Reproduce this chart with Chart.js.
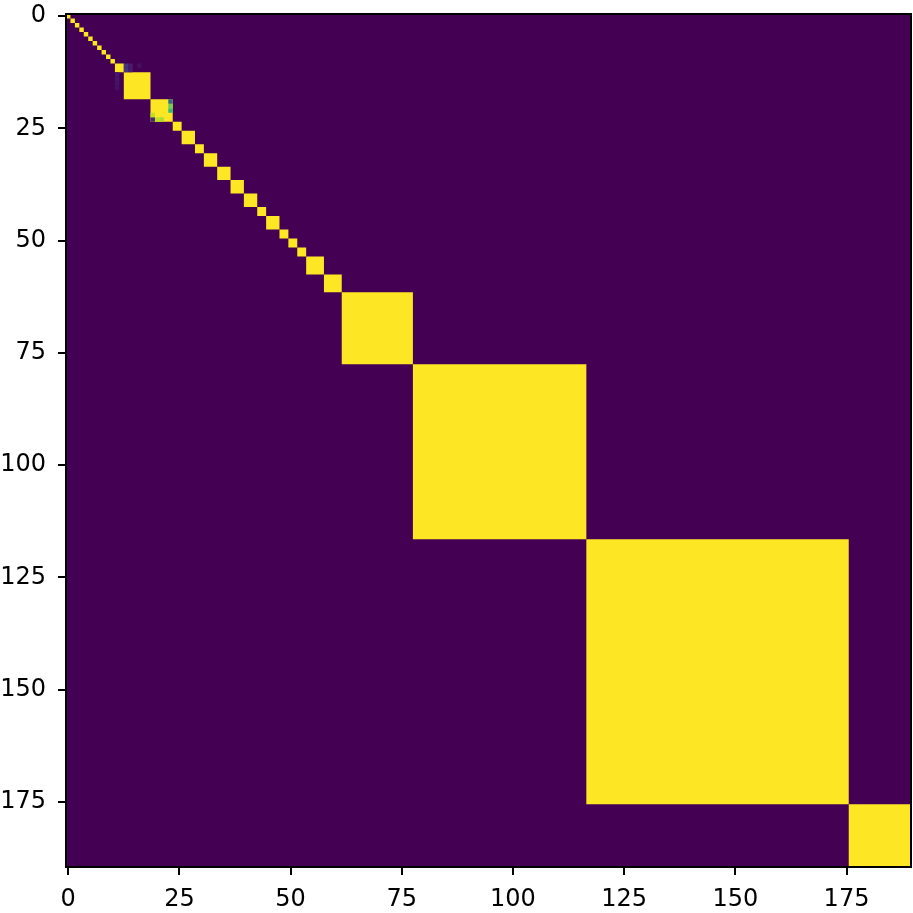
<!DOCTYPE html>
<html>
<head>
<meta charset="utf-8">
<script src="https://cdn.jsdelivr.net/npm/chart.js@4/dist/chart.umd.min.js"></script>
<style>
  html, body { margin: 0; padding: 0; background: #fff; }
  canvas { display: block; }
</style>
</head>
<body>
<canvas id="chart" width="913" height="913"></canvas>
<script>
// matrix size (rows = columns)
const size = 190;

// diagonal blocks of value 1 (first and last index of each block)
const blockFirst = [0, 1, 2, 3, 4, 5, 6, 7, 8, 9, 10, 11, 13, 19, 24, 26, 29, 31, 34, 37, 40, 43, 45, 48, 50, 52, 54, 58, 62, 78, 117, 176];
const blockLast  = [0, 1, 2, 3, 4, 5, 6, 7, 8, 9, 10, 12, 18, 23, 25, 28, 30, 33, 36, 39, 42, 44, 47, 49, 51, 53, 57, 61, 77, 116, 175, 189];

// single cells whose value is neither 0 nor 1
const cellX     = [23,   23,   23,   19,   19,   20,   21,   13,   13,   14,   14,   11,   11,   11,   11,   16];
const cellY     = [19,   20,   21,   22,   23,   23,   23,   11,   12,   11,   12,   13,   14,   15,   16,   11];
const cellValue = [0.33, 0.78, 0.66, 0.9,  0.1,  0.9,  0.88, 0.15, 0.15, 0.08, 0.08, 0.06, 0.06, 0.05, 0.04, 0.04];

const xTicks = [0, 25, 50, 75, 100, 125, 150, 175];
const yTicks = [0, 25, 50, 75, 100, 125, 150, 175];

// viridis colormap
const viridis = ['#440154', '#482475', '#414487', '#355f8d', '#2a788e', '#21918c',
                 '#22a884', '#44bf70', '#7ad151', '#bddf26', '#fde725'];

function hexToRgb(h) {
    return [parseInt(h.slice(1, 3), 16), parseInt(h.slice(3, 5), 16), parseInt(h.slice(5, 7), 16)];
}

function colorFor(v) {
    const t = Math.max(0, Math.min(1, v)) * (viridis.length - 1);
    const i = Math.min(Math.floor(t), viridis.length - 2);
    const f = t - i;
    const a = hexToRgb(viridis[i]);
    const b = hexToRgb(viridis[i + 1]);
    const c = a.map((x, k) => Math.round(x + (b[k] - x) * f));
    return 'rgb(' + c.join(',') + ')';
}

// closed square outline from cell index lo..hi (columns) and rlo..rhi (rows)
function square(lo, hi, rlo, rhi) {
    return [
        { x: lo - 0.5, y: rlo - 0.5 },
        { x: hi + 0.5, y: rlo - 0.5 },
        { x: hi + 0.5, y: rhi + 0.5 },
        { x: lo - 0.5, y: rhi + 0.5 },
        { x: lo - 0.5, y: rlo - 0.5 }
    ];
}

function shapeDataset(data, color, order) {
    return {
        data: data,
        showLine: true,
        fill: 'shape',
        backgroundColor: color,
        borderColor: 'transparent',
        borderWidth: 0,
        pointRadius: 0,
        order: order
    };
}

const datasets = [];
cellValue.forEach((v, i) => {
    datasets.push(shapeDataset(square(cellX[i], cellX[i], cellY[i], cellY[i]), colorFor(v), 1));
});
blockFirst.forEach((s, i) => {
    datasets.push(shapeDataset(square(s, blockLast[i], s, blockLast[i]), colorFor(1), 2));
});
// everything else is 0
datasets.push(shapeDataset(square(0, size - 1, 0, size - 1), colorFor(0), 3));

// frame round the plot area, like matplotlib spines
const frame = {
    id: 'frame',
    afterDraw(chart) {
        const { ctx, chartArea: a } = chart;
        ctx.save();
        ctx.strokeStyle = '#000';
        ctx.lineWidth = 2;
        ctx.strokeRect(a.left, a.top, a.right - a.left, a.bottom - a.top);
        ctx.restore();
    }
};

Chart.defaults.font.family = 'DejaVu Sans';
Chart.defaults.color = '#000';

const tickFont = { size: 24 };

new Chart(document.getElementById('chart'), {
    type: 'scatter',
    data: { datasets: datasets },
    options: {
        responsive: false,
        animation: false,
        events: [],
        layout: { padding: { top: 14, right: 2, left: 0, bottom: 0 } },
        plugins: { legend: { display: false }, tooltip: { enabled: false } },
        scales: {
            x: {
                type: 'linear',
                min: -0.5,
                max: size - 0.5,
                afterBuildTicks: (axis) => { axis.ticks = xTicks.map(v => ({ value: v })); },
                afterFit: (axis) => { axis.height = 46; axis.paddingLeft = 0; axis.paddingRight = 0; },
                ticks: { font: tickFont, color: '#000', padding: 10, maxRotation: 0, autoSkip: false },
                grid: { drawOnChartArea: false, drawTicks: true, tickLength: 8, color: '#000', lineWidth: 2 },
                border: { display: false }
            },
            y: {
                type: 'linear',
                reverse: true,
                min: -0.5,
                max: size - 0.5,
                afterBuildTicks: (axis) => { axis.ticks = yTicks.map(v => ({ value: v })); },
                afterFit: (axis) => { axis.width = 66; axis.paddingTop = 0; axis.paddingBottom = 0; },
                ticks: { font: tickFont, color: '#000', padding: 12, autoSkip: false },
                grid: { drawOnChartArea: false, drawTicks: true, tickLength: 8, color: '#000', lineWidth: 2 },
                border: { display: false }
            }
        }
    },
    plugins: [frame]
});
</script>
</body>
</html>
